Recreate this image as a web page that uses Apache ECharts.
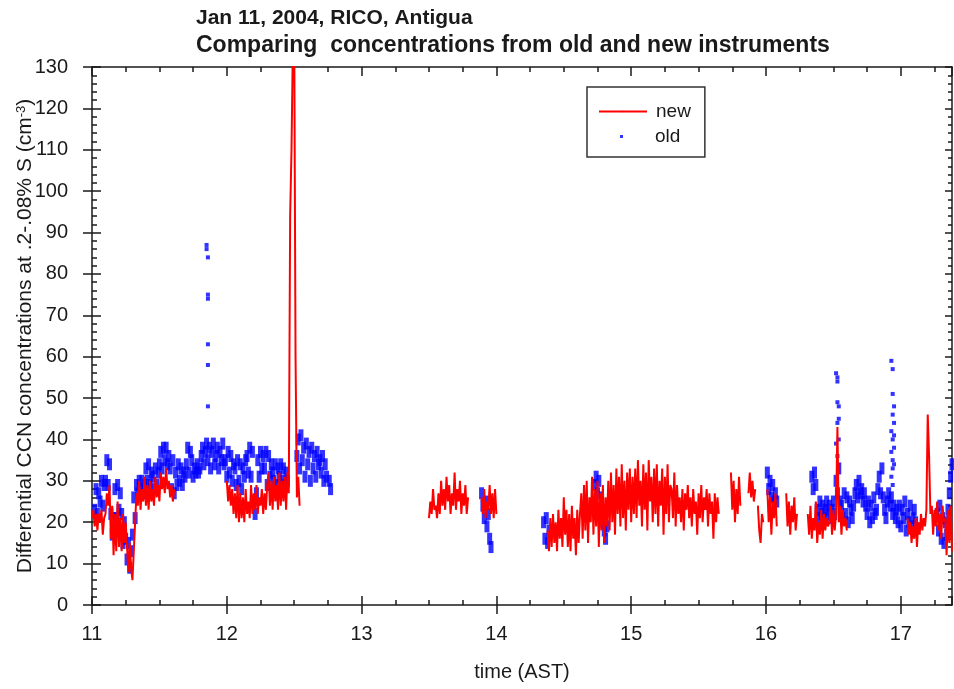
<!DOCTYPE html>
<html>
<head>
<meta charset="utf-8">
<title>CCN old vs new</title>
<script src="https://cdn.jsdelivr.net/npm/echarts@6/dist/echarts.min.js"></script>
<style>
  html, body { margin: 0; padding: 0; background: #fff; }
  #chart { width: 954px; height: 689px; }
</style>
</head>
<body>
<div id="chart"></div>
<script>
  // sampling step of the records, hours
  const sampleStep = 0.01

  // "new" instrument: start time (hr AST) of each continuous record and its values
  const newStart = [11.00, 12.00, 13.50, 13.89, 14.38, 15.74, 15.87, 15.94, 16.01, 16.15, 16.31, 17.05]
  const newConc = [
    [21, 23, 19, 22, 18, 22, 20, 23, 17, 21, 22, 27, 24, 29, 16, 24, 12, 22, 13, 25, 14,
     21, 13, 22, 15, 20, 14, 8, 15, 9, 6, 13, 20,
     27, 24, 30, 23, 28, 25, 31, 24, 29, 23, 30, 25, 28, 24, 31, 26, 29, 25,
     32, 28, 31, 27, 33, 28, 30, 26, 29, 25, 28],
    [30, 25, 29, 24, 28, 22, 27, 21,
     29, 20, 27, 21, 26, 20, 28, 22, 25, 21,
     29, 22, 27, 23, 29, 22, 26, 24, 28, 22, 27, 23, 29,
     32, 24, 30, 23, 31, 25, 29, 23, 32, 24, 30, 25, 31, 23, 32, 27,
     94, 110, 135, 140, 60, 26, 31, 24],
    [21, 25, 22, 28, 23, 24, 21, 27, 22, 30, 24, 28, 23, 31, 25, 29, 22, 27, 24, 32,
     23, 28, 25, 30, 22, 27, 24, 29, 22, 26],
    [26, 22, 28, 21, 25, 23, 29, 22, 27, 21, 28, 22],
    [18, 13, 21, 14, 22, 15, 20, 13, 23, 16, 21, 14, 26,
     17, 23, 14, 22, 13, 24, 16, 21, 12, 23, 15, 22,
     27, 16, 29, 18, 30, 15, 26, 20, 31, 17, 28, 19, 30, 14, 27, 18, 29, 15, 26, 19,
     30, 18, 32, 20, 29, 17, 33, 22, 31, 19, 34, 21, 30, 18, 32, 23, 33, 20, 31, 22,
     33, 21, 35, 24, 30, 19, 34, 23, 32, 18, 35, 25, 31, 20, 33, 22, 34, 19, 30, 24,
     33, 17, 31, 22, 34, 20, 29,
     28, 21, 32, 19, 29, 22, 26, 20, 28, 18, 27, 23, 29, 21, 26, 19, 28, 22, 25, 17,
     27, 21, 29, 20, 26, 23, 28, 19, 27, 22, 25, 16, 27, 20, 26, 22],
    [32, 23, 30, 20, 28, 22, 31, 24],
    [27, 32, 26, 30, 25, 28],
    [24, 18, 15, 22, 20],
    [28, 20, 26, 17, 25, 21, 27, 19],
    [27, 19, 25, 17, 24, 20, 26, 18, 22],
    [22, 17, 24, 16, 21, 18, 25, 15, 20, 17, 23, 16, 22, 18, 21, 19,
     20, 24, 17, 23, 18, 22, 43, 20, 24, 17, 23, 19, 21, 18],
    [21, 17, 20, 15, 19, 16, 21, 14, 20, 17, 22, 18, 21, 19, 23,
     46, 36, 22,
     24, 17, 23, 19, 25, 18, 22, 16, 24, 20, 21, 12, 23, 15, 24, 13]
  ]

  // "old" instrument: same layout
  const oldStart = [11.02, 12.52, 12.76, 13.89, 14.35, 14.72, 16.01, 16.34, 17.27]
  const oldConc = [
    [23, 28, 22, 27, 25, 30, 24, 29, 30, 35, 29, 34, 22, 17, 21, 28, 21, 29, 23, 27,
     22, 15, 20, 16, 11, 15, 9, 13, 17, 26, 21,
     29, 27, 30, 28, 30, 27, 29, 33, 30, 34, 29, 32, 31, 28, 33, 29, 32,
     34, 37, 33, 38, 35, 38, 34, 36, 33, 28, 35, 27, 32, 29, 34,
     30, 33, 29, 32, 31, 34, 38, 32, 37, 35, 31, 33, 32, 34, 32,
     33, 36, 38, 34, 37, 39, 35, 38, 33, 37, 39, 34, 36, 38, 33, 37, 35, 39, 34,
     35, 31, 37, 32, 36, 30, 34, 33, 29, 35, 30, 34, 28, 33, 31, 35,
     36, 32, 38, 31, 37, 25, 22, 27, 35, 31, 37, 33, 36,
     33, 37, 29, 36, 31, 34, 32, 30, 34, 29, 33, 31, 34, 30, 33, 29, 32, 30],
    [36, 40, 33, 41, 35, 38, 31, 39, 34, 37, 30, 38, 33, 36, 31, 37, 34, 35, 32, 36, 30, 34, 31],
    [30, 28],
    [27, 24, 21, 25, 19, 22, 16, 14],
    [20, 16, 21, 15, 18],
    [24, 29, 31, 27, 30, 22, 26, 20, 18, 16, 19],
    [32, 28, 30, 26, 29, 25, 27, 25],
    [31, 28, 32, 29,
     23, 21, 25, 22, 24, 21, 23, 25, 22, 24, 21, 23, 25, 22,
     30, 27, 33, 25,
     24, 21, 27, 22, 26, 20, 25, 23, 21, 24,
     27, 29, 26, 30, 27, 28, 25, 27, 24,
     22, 25, 20, 24, 21, 26, 22, 23,
     28, 31, 27, 33, 26,
     23, 21, 25, 27, 24, 26, 22, 24, 21, 23,
     20, 24, 19, 23, 21, 25, 18, 22, 20, 24, 19, 21, 23, 20],
    [22, 18, 24, 16, 21, 15, 20, 17, 23, 27, 31, 34]
  ]

  // isolated high readings of the old instrument
  const oldSpikeTime = [11.85, 11.85, 11.86, 11.86, 11.86, 11.86, 11.86, 11.86,
    16.52, 16.53, 16.53, 16.53, 16.54, 16.54, 16.53, 16.54, 16.52, 16.53,
    16.93, 16.94, 16.94, 16.95, 16.94, 16.95, 16.93, 16.95, 16.94, 16.95, 16.93, 16.94, 16.95, 16.94, 16.93, 16.94]
  const oldSpikeConc = [87, 86, 84, 75, 74, 63, 58, 48,
    56, 55, 54, 49, 48, 45, 44, 40, 39, 36,
    59, 57, 51, 48, 46, 44, 42, 41, 40, 38, 37, 35, 34, 33, 31, 29]

  // axis ranges
  const timeMin = 11
  const timeMax = 17.38
  const concMin = 0
  const concMax = 130

  const font = 'Liberation Sans, Arial, sans-serif'
  const ink = '#1a1a1a'

  /** segments -> [time, value] pairs, a null point between segments breaks the line */
  const toPairs = (starts, values, withGaps) => {
    const out = []
    starts.forEach((s, k) => {
      values[k].forEach((v, i) => {
        out.push([+(s + i * sampleStep).toFixed(3), v])
      })
      if (withGaps) {
        out.push([+(s + values[k].length * sampleStep).toFixed(3), null])
      }
    })
    return out
  }

  const newData = toPairs(newStart, newConc, true)
  const oldData = toPairs(oldStart, oldConc, false)
  const oldSpikeData = oldSpikeTime.map((t, i) => [t, oldSpikeConc[i]])

  const lineStyle = { color: ink, width: 1.5 }
  const baseX = { type: 'value', min: timeMin, max: timeMax, splitLine: { show: false } }
  const baseY = { type: 'value', min: concMin, max: concMax, interval: 10, splitLine: { show: false } }

  const chart = echarts.init(document.getElementById('chart'))
  chart.setOption({
    animation: false,
    backgroundColor: '#fff',
    title: {
      text: '{a|Jan 11, 2004, RICO, Antigua}\n{b|Comparing  concentrations from old and new instruments}',
      left: 191,
      top: 0,
      textStyle: {
        rich: {
          a: { fontFamily: font, fontSize: 21, fontWeight: 'bold', color: ink, lineHeight: 27 },
          b: { fontFamily: font, fontSize: 23, fontWeight: 'bold', color: ink, lineHeight: 27 }
        }
      }
    },
    grid: { left: 92, right: 2, top: 67, bottom: 84, containLabel: false, outerBoundsMode: 'none' },
    legend: [
      {
        data: ['new'],
        left: 587,
        top: 87,
        orient: 'vertical',
        itemWidth: 48,
        itemHeight: 2,
        padding: [15, 14, 36, 11],
        borderColor: '#333',
        borderWidth: 1.5,
        textStyle: { fontFamily: font, fontSize: 19, color: ink, padding: [0, 0, 0, 4] }
      },
      {
        data: [{ name: 'old', icon: 'rect' }],
        left: 615,
        top: 122,
        itemWidth: 3,
        itemHeight: 3,
        textStyle: { fontFamily: font, fontSize: 19, color: ink, padding: [0, 0, 0, 27] }
      }
    ],
    xAxis: [
      {
        ...baseX,
        position: 'bottom',
        interval: 1,
        name: 'time (AST)',
        nameLocation: 'middle',
        nameGap: 57,
        nameMoveOverlap: false,
        nameTextStyle: { fontFamily: font, fontSize: 20, color: ink },
        axisLine: { lineStyle },
        axisTick: { length: 9, lineStyle },
        axisLabel: { margin: 19, fontFamily: font, fontSize: 20, color: ink, showMaxLabel: false }
      },
      {
        ...baseX,
        position: 'bottom',
        interval: 1,
        axisLine: { show: false },
        axisTick: { inside: true, length: 9, lineStyle },
        axisLabel: { show: false }
      },
      {
        ...baseX,
        position: 'bottom',
        interval: 0.25,
        axisLine: { show: false },
        axisTick: { inside: true, length: 5, lineStyle },
        axisLabel: { show: false }
      },
      {
        ...baseX,
        position: 'top',
        interval: 1,
        axisLine: { lineStyle },
        axisTick: { inside: true, length: 9, lineStyle },
        axisLabel: { show: false }
      },
      {
        ...baseX,
        position: 'top',
        interval: 0.25,
        axisLine: { show: false },
        axisTick: { inside: true, length: 5, lineStyle },
        axisLabel: { show: false }
      }
    ],
    yAxis: [
      {
        ...baseY,
        position: 'left',
        name: '{n|Differential CCN concentrations at .2-.08% S (cm}{s|-3}{n|)}',
        nameLocation: 'middle',
        nameGap: 56,
        nameMoveOverlap: false,
        nameTextStyle: {
          rich: {
            n: { fontFamily: font, fontSize: 21, color: ink },
            s: { fontFamily: font, fontSize: 13, color: ink, verticalAlign: 'top', padding: [0, 0, 7, 0] }
          }
        },
        axisLine: { lineStyle },
        axisTick: { length: 9, lineStyle },
        axisLabel: { margin: 24, fontFamily: font, fontSize: 20, color: ink }
      },
      {
        ...baseY,
        position: 'left',
        axisLine: { show: false },
        axisTick: { inside: true, length: 9, lineStyle },
        minorTick: { show: true, splitNumber: 5, length: 5, lineStyle },
        axisLabel: { show: false }
      },
      {
        ...baseY,
        position: 'right',
        axisLine: { lineStyle },
        axisTick: { inside: true, length: 7, lineStyle },
        minorTick: { show: true, splitNumber: 5, length: 4, lineStyle },
        axisLabel: { show: false }
      }
    ],
    series: [
      {
        name: 'new',
        type: 'line',
        xAxisIndex: 0,
        yAxisIndex: 0,
        data: newData,
        symbol: 'none',
        connectNulls: false,
        lineStyle: { color: '#ff0000', width: 2 },
        itemStyle: { color: '#ff0000' },
        clip: true
      },
      {
        name: 'old',
        type: 'scatter',
        xAxisIndex: 0,
        yAxisIndex: 0,
        data: oldData,
        symbol: 'rect',
        symbolSize: [5, 12],
        itemStyle: { color: '#0000ff' },
        clip: true
      },
      {
        name: 'old',
        type: 'scatter',
        xAxisIndex: 0,
        yAxisIndex: 0,
        data: oldSpikeData,
        symbol: 'rect',
        symbolSize: 4,
        itemStyle: { color: '#0000ff' },
        clip: true
      }
    ]
  })
</script>
</body>
</html>
